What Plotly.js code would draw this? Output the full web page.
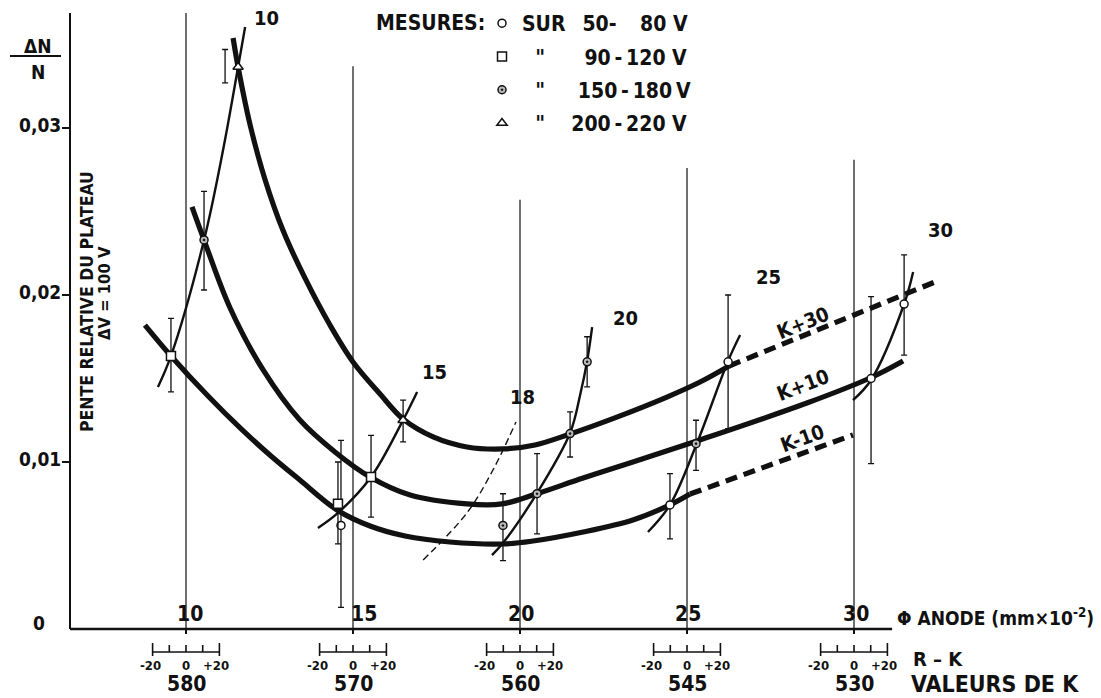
<!DOCTYPE html>
<html><head><meta charset="utf-8">
<script src="https://cdn.plot.ly/plotly-3.0.1.min.js"></script>
<style>html,body{margin:0;padding:0;background:#fff}</style>
</head><body>
<div id="chart" style="width:1101px;height:698px"></div>
<script>
// ---------------- DATA ----------------
const anodeTicks  = [10, 15, 20, 25, 30];
const anodeLabels = ['10', '15', '20', '25', '30'];
const kValues     = ['580', '570', '560', '545', '530'];
const rkTicks     = [-20, -10, 0, 10, 20];
const rkLabelVals = [-20, 0, 20];
const rkLabels    = ['-20', '0', '+20'];
const yTickVals   = [0.01, 0.02, 0.03];
const yTickText   = ['0,01', '0,02', '0,03'];
const gridTop     = [0.0369, 0.0337, 0.0257, 0.0276, 0.0281];

// thick curves (relative slope vs anode diameter)
const kp30X = [11.41, 11.56, 11.92, 12.37, 12.90, 13.56, 14.31, 15.00, 15.81, 16.50, 17.40, 18.41, 19.49, 20.45, 21.50, 22.90, 24.40, 25.39, 26.26];
const kp30Y = [0.03539, 0.03365, 0.03018, 0.02689, 0.02389, 0.02102, 0.01820, 0.01599, 0.01407, 0.01257, 0.01150, 0.01090, 0.01078, 0.01102, 0.01168, 0.01269, 0.01389, 0.01479, 0.01575];
const kp30DashX = [26.26, 32.57];
const kp30DashY = [0.01575, 0.0209];

const kp10X = [10.18, 10.54, 11.32, 12.31, 13.41, 14.46, 15.51, 16.71, 18.41, 19.46, 20.48, 21.89, 23.38, 25.39, 28.59, 30.48, 31.47];
const kp10Y = [0.02527, 0.02329, 0.01922, 0.01551, 0.01251, 0.01060, 0.00910, 0.00802, 0.00749, 0.00749, 0.00808, 0.00904, 0.01000, 0.01132, 0.01353, 0.01503, 0.01605];

const km10X = [8.77, 9.55, 10.66, 11.62, 12.51, 13.41, 14.52, 15.51, 16.56, 17.90, 19.49, 20.39, 21.89, 23.38, 24.49, 25.09];
const km10Y = [0.01820, 0.01635, 0.01395, 0.01204, 0.01042, 0.00892, 0.00713, 0.00617, 0.00557, 0.00521, 0.00509, 0.00527, 0.00581, 0.00653, 0.00743, 0.00808];
const km10DashX = [25.09, 29.97];
const km10DashY = [0.00808, 0.01162];

// thin iso-anode curves
const iso10X = [9.16, 9.55, 10.54, 11.11, 11.56, 11.77];
const iso10Y = [0.01449, 0.01635, 0.02329, 0.02868, 0.03365, 0.03605];
const iso15X = [13.95, 14.55, 15.54, 16.50, 16.92];
const iso15Y = [0.00605, 0.00695, 0.00910, 0.01251, 0.01419];
const iso18X = [17.10, 18.41, 19.19, 19.88];
const iso18Y = [0.00413, 0.00695, 0.00952, 0.01240];
const iso20X = [19.16, 19.49, 20.51, 21.50, 21.80, 22.01, 22.16];
const iso20Y = [0.00443, 0.00515, 0.00814, 0.01174, 0.01401, 0.01605, 0.01808];
const iso25X = [23.83, 24.49, 25.30, 26.23, 26.59];
const iso25Y = [0.00581, 0.00743, 0.01114, 0.01605, 0.01760];
const iso30X = [29.97, 30.51, 31.50, 31.77];
const iso30Y = [0.01371, 0.01491, 0.01946, 0.02138];

// measurements
const m50X  = [14.64, 24.49, 26.23, 30.51, 31.50];
const m50Y  = [0.0062, 0.00743, 0.0160, 0.0150, 0.01946];
const m50Hi = [0.0113, 0.0093, 0.0200, 0.0199, 0.0224];
const m50Lo = [0.0013, 0.0054, 0.0120, 0.0099, 0.0164];

const m90X  = [9.55, 14.55, 15.54];
const m90Y  = [0.01635, 0.0075, 0.0091];
const m90Hi = [0.0186, 0.0100, 0.0116];
const m90Lo = [0.0142, 0.0051, 0.0067];

const m150X  = [10.54, 19.49, 20.51, 21.50, 22.01, 25.27];
const m150Y  = [0.0233, 0.0062, 0.0081, 0.0117, 0.0160, 0.0111];
const m150Hi = [0.0262, 0.0081, 0.0105, 0.0130, 0.0175, 0.0125];
const m150Lo = [0.0203, 0.0041, 0.0057, 0.0103, 0.0145, 0.0095];

const m200X  = [11.56, 16.50];
const m200Y  = [0.03365, 0.0125];
const m200Hi = [null, 0.0137];
const m200Lo = [null, 0.0112];
// error bar of the 10 / 200-220V point drawn beside it
const m200BarX  = [11.17];
const m200BarY  = [0.0337];
const m200BarHi = [0.0347];
const m200BarLo = [0.0327];

const isoLabels = ['10', '15', '18', '20', '25', '30'];
const isoLabelX = [12.40, 17.43, 20.06, 23.17, 27.43, 32.60];
const isoLabelY = [0.03660, 0.01539, 0.01389, 0.01862, 0.02108, 0.02389];
const kCurveLabels = ['K+30', 'K+10', 'K-10'];
const kCurveLabelX = [28.47, 28.47, 28.47];
const kCurveLabelY = [0.01832, 0.01461, 0.01144];

const NB = '\u00a0', TH = '\u2009';
const legendNames = ['SUR' + NB + NB + TH + '50-' + NB + NB + NB + TH + '80' + NB + 'V',
                     NB + NB + '"' + NB.repeat(6) + '90' + TH + '-' + TH + '120' + NB + 'V',
                     NB + NB + '"' + NB.repeat(5) + '150' + TH + '-' + TH + '180' + TH + 'V',
                     NB + NB + '"' + NB.repeat(4) + '200' + TH + '-' + TH + '220' + NB + 'V'];

// ---------------- STYLE / LAYOUT ----------------
const F = "'DejaVu Sans Condensed', 'DejaVu Sans', sans-serif";
const INK = '#111';
const PX0 = 70, PY0 = 629, PLOTW = 930, PLOTH = 616;
const XMIN = 6.527, XMAX = 34.371, XAXEND = 31.14, YMAX = 0.036886;
const RKHALF = 1.0;  // R-K of 20 spans one anode unit
function pxp(v) { return (v - PX0) / PLOTW; }
function pyp(v) { return (PY0 - v) / PLOTH; }

function curve(x, y, w, dash) {
  return {type: 'scatter', mode: 'lines', x: x, y: y, showlegend: false, hoverinfo: 'skip',
          line: {color: INK, width: w, shape: 'spline', smoothing: 1, dash: dash || 'solid'}};
}
function errs(y, hi, lo) {
  return {type: 'data', symmetric: false,
          array: y.map((v, i) => hi[i] == null ? NaN : hi[i] - v),
          arrayminus: y.map((v, i) => lo[i] == null ? NaN : v - lo[i]),
          thickness: 1.3, width: 3, color: INK};
}
function meas(name, x, y, hi, lo, sym, fill, size) {
  return {type: 'scatter', mode: 'markers', name: name, legendgroup: name, x: x, y: y,
          marker: {symbol: sym, size: size, color: fill, line: {color: INK, width: 1.5}},
          error_y: errs(y, hi, lo), hoverinfo: 'skip'};
}

const traces = [
  curve(iso10X, iso10Y, 2.4),
  curve(iso15X, iso15Y, 2.4),
  curve(iso18X, iso18Y, 1.4, '7px,4px'),
  curve(iso20X, iso20Y, 2.4),
  curve(iso25X, iso25Y, 2.4),
  curve(iso30X, iso30Y, 2.4),
  curve(kp30X, kp30Y, 5.2),
  curve(kp30DashX, kp30DashY, 5.2, '12px,7px'),
  curve(kp10X, kp10Y, 5.2),
  curve(km10X, km10Y, 5.2),
  curve(km10DashX, km10DashY, 5.2, '12px,7px'),
  {type: 'scatter', mode: 'markers', x: m200BarX, y: m200BarY, showlegend: false, hoverinfo: 'skip',
   marker: {size: 1, color: 'rgba(0,0,0,0)'}, error_y: errs(m200BarY, m200BarHi, m200BarLo)},
  meas(legendNames[0], m50X, m50Y, m50Hi, m50Lo, 'circle', '#fff', 8),
  meas(legendNames[1], m90X, m90Y, m90Hi, m90Lo, 'square', '#fff', 9),
  meas(legendNames[2], m150X, m150Y, m150Hi, m150Lo, 'circle-dot', '#bbb', 8),
  meas(legendNames[3], m200X, m200Y, m200Hi, m200Lo, 'triangle-up', '#fff', 9)
];

const shapes = [];
const annotations = [];
// axis lines
shapes.push({type: 'line', xref: 'paper', yref: 'paper', x0: 0, x1: 0, y0: 0, y1: 1, line: {color: INK, width: 2}});
shapes.push({type: 'line', xref: 'x', yref: 'paper', x0: XMIN, x1: XAXEND, y0: 0, y1: 0, line: {color: INK, width: 2.5}});
// vertical reference lines + secondary scales
anodeTicks.forEach((t, i) => {
  shapes.push({type: 'line', xref: 'x', yref: 'y', x0: t, x1: t, y0: 0, y1: gridTop[i], line: {color: INK, width: 1.2}, layer: 'below'});
  shapes.push({type: 'line', xref: 'x', yref: 'paper', x0: t - RKHALF, x1: t + RKHALF, y0: pyp(652), y1: pyp(652), line: {color: INK, width: 1.6}});
  rkTicks.forEach((r, j) => {
    const end = (j === 0 || j === rkTicks.length - 1);
    shapes.push({type: 'line', xref: 'x', yref: 'paper', x0: t + r / 20 * RKHALF, x1: t + r / 20 * RKHALF,
                 y0: end ? pyp(656) : pyp(652), y1: end ? pyp(643) : pyp(645), line: {color: INK, width: 1.6}});
  });
  rkLabelVals.forEach((r, j) => {
    annotations.push({xref: 'x', yref: 'paper', x: t + r / 20 * RKHALF, y: pyp(665), text: '<b>' + rkLabels[j] + '</b>',
                      showarrow: false, xanchor: 'center', yanchor: 'middle', xshift: j === 2 ? -3 : (j === 0 ? -2 : 0),
                      font: {family: F, size: 13, color: INK}});
  });
  annotations.push({xref: 'x', yref: 'paper', x: t, y: pyp(684), text: '<b>' + kValues[i] + '</b>', showarrow: false,
                    xanchor: 'center', yanchor: 'middle', borderpad: 0, font: {family: F, size: 21, color: INK}});
  annotations.push({xref: 'x', yref: 'paper', x: t, y: pyp(614), text: '<b>' + anodeLabels[i] + '</b>', showarrow: false,
                    xanchor: 'center', yanchor: 'middle', xshift: [4, 11, 1, 1, 2][i], font: {family: F, size: 21, color: INK}});
});
// y tick labels
yTickVals.forEach((v, i) => {
  annotations.push({xref: 'paper', yref: 'y', x: pxp(63), y: v, yshift: 3, text: '<b>' + yTickText[i] + '</b>', showarrow: false,
                    xanchor: 'right', yanchor: 'middle', font: {family: F, size: 19, color: INK}});
});
annotations.push({xref: 'paper', yref: 'y', x: pxp(39), y: 0, yshift: 6, text: '<b>0</b>', showarrow: false,
                  xanchor: 'center', yanchor: 'middle', font: {family: F, size: 19, color: INK}});
// y title pieces
annotations.push({xref: 'paper', yref: 'paper', x: pxp(37.5), y: pyp(46), text: '<b>ΔN</b>', showarrow: false,
                  xanchor: 'center', yanchor: 'middle', font: {family: F, size: 19, color: INK}});
annotations.push({xref: 'paper', yref: 'paper', x: pxp(37.5), y: pyp(72), text: '<b>N</b>', showarrow: false,
                  xanchor: 'center', yanchor: 'middle', font: {family: F, size: 19, color: INK}});
shapes.push({type: 'line', xref: 'paper', yref: 'paper', x0: pxp(10), x1: pxp(61), y0: pyp(56), y1: pyp(56), line: {color: INK, width: 2}});
annotations.push({xref: 'paper', yref: 'paper', x: pxp(87), y: pyp(302), text: '<b>PENTE RELATIVE DU PLATEAU</b>', textangle: -90,
                  showarrow: false, xanchor: 'center', yanchor: 'middle', font: {family: F, size: 17.5, color: INK}});
annotations.push({xref: 'paper', yref: 'paper', x: pxp(104), y: pyp(293), text: '<b>ΔV = 100 V</b>', textangle: -90,
                  showarrow: false, xanchor: 'center', yanchor: 'middle', font: {family: F, size: 16.5, color: INK}});
// right-hand captions
annotations.push({xref: 'paper', yref: 'paper', x: pxp(895), y: pyp(617), text: '<b>Φ ANODE (mm×10<sup>-2</sup>)</b>', showarrow: false,
                  xanchor: 'left', yanchor: 'middle', font: {family: F, size: 19, color: INK}});
annotations.push({xref: 'paper', yref: 'paper', x: pxp(911), y: pyp(659), text: '<b>R – K</b>', showarrow: false,
                  xanchor: 'left', yanchor: 'middle', font: {family: F, size: 20, color: INK}});
annotations.push({xref: 'paper', yref: 'paper', x: pxp(910), y: pyp(684), text: '<b>VALEURS DE K</b>', showarrow: false,
                  xanchor: 'left', yanchor: 'middle', borderpad: 0, font: {family: F, size: 23, color: INK}});
// legend heading
annotations.push({xref: 'paper', yref: 'paper', x: pxp(487), y: pyp(23), text: '<b>MESURES:</b>', showarrow: false,
                  xanchor: 'right', yanchor: 'middle', font: {family: F, size: 21, color: INK}});
// curve labels
isoLabels.forEach((s, i) => {
  annotations.push({x: isoLabelX[i], y: isoLabelY[i], text: '<b>' + s + '</b>', showarrow: false,
                    xanchor: 'center', yanchor: 'middle', font: {family: F, size: 20, color: INK}});
});
kCurveLabels.forEach((s, i) => {
  annotations.push({x: kCurveLabelX[i], y: kCurveLabelY[i], text: '<b>' + s + '</b>', showarrow: false, textangle: [-22, -21, -20][i],
                    xanchor: 'center', yanchor: 'middle', font: {family: F, size: 20, color: INK}});
});

const layout = {
  width: 1101, height: 698,
  margin: {l: PX0, r: 1101 - PX0 - PLOTW, t: PY0 - PLOTH, b: 698 - PY0, autoexpand: false},
  paper_bgcolor: '#fff', plot_bgcolor: '#fff',
  font: {family: F, color: INK},
  xaxis: {range: [XMIN, XMAX], showgrid: false, zeroline: false, showline: false, showticklabels: false, automargin: false,
          tickvals: anodeTicks, ticks: 'outside', ticklen: 4, tickwidth: 1.5, tickcolor: INK},
  yaxis: {range: [0, YMAX], showgrid: false, zeroline: false, showline: false, showticklabels: false, automargin: false,
          tickvals: yTickVals, ticks: 'outside', ticklen: 7, tickwidth: 1.5, tickcolor: INK},
  showlegend: true,
  legend: {x: pxp(482), xanchor: 'left', y: pyp(3), yanchor: 'top', bgcolor: 'rgba(0,0,0,0)',
           traceorder: 'grouped', tracegroupgap: 3, itemclick: false,
           font: {family: F, size: 21, color: INK, weight: 'bold'}},
  shapes: shapes,
  annotations: annotations
};

Plotly.newPlot('chart', traces, layout, {displayModeBar: false, staticPlot: true});
</script>
</body></html>
